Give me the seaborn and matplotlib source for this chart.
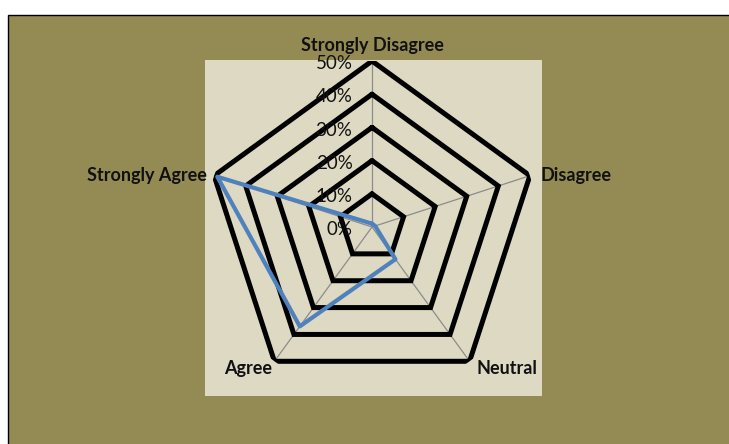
import numpy as np
import pandas as pd
import seaborn as sns
import matplotlib
matplotlib.use("Agg")
import matplotlib.pyplot as plt
from matplotlib.patches import Rectangle
from matplotlib.transforms import offset_copy

# data
categories = ["Strongly Disagree", "Disagree", "Neutral", "Agree", "Strongly Agree"]
responses = [1, 1, 12, 37, 49]          # percent
ring_levels = [0, 10, 20, 30, 40, 50]
ring_labels = ["0%", "10%", "20%", "30%", "40%", "50%"]

OLIVE = "#948A54"
PLOT_BG = "#DDD9C3"
LINE_BLUE = "#4F81BD"

sns.set_theme(style="white")
plt.rcParams["font.family"] = ["Lato", "DejaVu Sans"]

W, H = 729, 444
fig = plt.figure(figsize=(W / 100, H / 100), dpi=100)
fig.patch.set_facecolor("white")

# outer olive chart area and inner beige plot area
fig.patches.append(Rectangle((8 / W, -0.01), 1.0, (H - 15) / H + 0.01,
                             transform=fig.transFigure, facecolor=OLIVE,
                             edgecolor="black", linewidth=1.0, zorder=-2))
fig.patches.append(Rectangle((205 / W, 48 / H), 337 / W, 336 / H,
                             transform=fig.transFigure, facecolor=PLOT_BG,
                             edgecolor="none", zorder=-1))

# polar axes centred on the pentagon
cx, cy, R = 372, 227, 166
ax = fig.add_axes([(cx - R) / W, (H - cy - R) / H, 2 * R / W, 2 * R / H],
                  projection="polar")
ax.set_zorder(2)
ax.patch.set_visible(False)
ax.spines["polar"].set_visible(False)
ax.set_theta_offset(np.pi / 2)
ax.set_theta_direction(-1)
ax.set_ylim(0, ring_levels[-1])
ax.grid(False)
ax.set_xticks([])
ax.set_yticks([])

angles = np.linspace(0, 2 * np.pi, len(categories), endpoint=False)
closed = np.append(angles, angles[0])

# spokes
for a in angles:
    ax.plot([a, a], [0, ring_levels[-1]], color="#8C8C8C", lw=0.9, zorder=2)

# pentagon rings
for r in ring_levels[1:]:
    ax.plot(closed, [r] * len(closed), color="black", lw=3.6,
            solid_joinstyle="miter", zorder=3)

# data series
df = pd.DataFrame({"theta": closed, "value": responses + responses[:1]})
sns.lineplot(data=df, x="theta", y="value", sort=False, estimator=None,
             color=LINE_BLUE, lw=3.0, ax=ax, zorder=5)
ax.set_xlabel("")
ax.set_ylabel("")
ax.set_ylim(0, ring_levels[-1])

# radial tick labels, left of the top spoke
lab_tr = offset_copy(ax.transData, fig=fig, x=-14, y=-2, units="points")
for r, lab in zip(ring_levels, ring_labels):
    ax.text(0, r, lab, transform=lab_tr, ha="right", va="center",
            fontsize=13.5, color="#111111", zorder=6)

# category labels
offsets = [(0, 5, "center", "bottom"), (8, 0, "left", "center"),
           (5, -5, "left", "center"), (-2, -5, "right", "center"),
           (-5, 0, "right", "center")]
for a, cat, (dx, dy, ha, va) in zip(angles, categories, offsets):
    tr = offset_copy(ax.transData, fig=fig, x=dx, y=dy, units="points")
    ax.text(a, ring_levels[-1], cat, transform=tr, ha=ha, va=va,
            fontsize=13, fontweight="bold", color="#111111", zorder=6)

fig.savefig("out.png", dpi=100, facecolor=fig.get_facecolor())
